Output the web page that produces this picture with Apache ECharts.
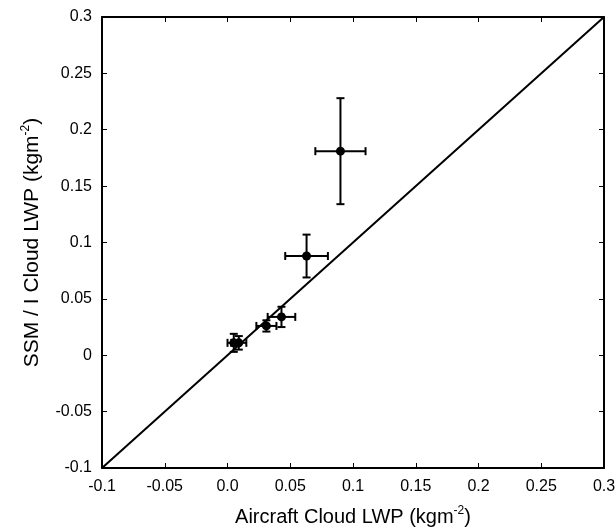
<!DOCTYPE html>
<html><head><meta charset="utf-8">
<script src="https://cdn.jsdelivr.net/npm/echarts@6/dist/echarts.min.js"></script>
<style>html,body{margin:0;padding:0;background:#fff}#c{width:616px;height:529px}</style>
</head><body><div id="c"></div>
<script>
const xVals = [0.005, 0.009, 0.031, 0.043, 0.063, 0.090];
const yVals = [0.011, 0.011, 0.026, 0.034, 0.088, 0.181];
const xErr  = [0.005, 0.006, 0.008, 0.011, 0.017, 0.020];
const yErr  = [0.008, 0.006, 0.005, 0.009, 0.019, 0.047];
const diagLine = [[-0.1, -0.1], [0.3, 0.3]];
const xTickLabels = {'-0.1':'-0.1','-0.05':'-0.05','0':'0.0','0.05':'0.05','0.1':'0.1','0.15':'0.15','0.2':'0.2','0.25':'0.25','0.3':'0.3'};

const pts = xVals.map((x,i)=>[x, yVals[i], xErr[i], yErr[i]]);
const font = 'Liberation Sans';
const chart = echarts.init(document.getElementById('c'), null, {renderer:'canvas'});
const axisCommon = {
  min:-0.1, max:0.3, interval:0.05,
  axisLine:{onZero:false, lineStyle:{color:'#000', width:2}},
  axisTick:{inside:true, length:5, lineStyle:{color:'#000', width:1}},
  splitLine:{show:false},
  axisLabel:{color:'#000', fontFamily:font, fontSize:16}
};
chart.setOption({
  animation:false,
  grid:{left:102, right:12, top:17, bottom:61, containLabel:false, outerBoundsMode:'none'},
  xAxis:[
    Object.assign({}, axisCommon, {type:'value', position:'bottom',
      name:'Aircraft Cloud LWP (kgm{sup|-2})', nameLocation:'middle', nameGap:37,
      nameTextStyle:{color:'#000', fontFamily:font, fontSize:20, rich:{sup:{fontSize:12, padding:[0,0,12,0], fontFamily:font}}},
      axisLabel:{color:'#000', fontFamily:font, fontSize:16, margin:11, formatter:v=>xTickLabels[String(+v.toFixed(2))] ?? v}}),
    Object.assign({}, axisCommon, {type:'value', position:'top', axisLabel:{show:false}})
  ],
  yAxis:[
    Object.assign({}, axisCommon, {type:'value', position:'left',
      name:'SSM / I Cloud LWP (kgm{sup|-2})', nameLocation:'middle', nameGap:58,
      nameTextStyle:{color:'#000', fontFamily:font, fontSize:21, rich:{sup:{fontSize:12, padding:[0,0,12,0], fontFamily:font}}},
      axisLabel:{color:'#000', fontFamily:font, fontSize:16, margin:10, formatter:v=>String(+v.toFixed(2))}}),
    Object.assign({}, axisCommon, {type:'value', position:'right', axisLabel:{show:false}})
  ],
  series:[
    {type:'line', data:diagLine, symbol:'none', lineStyle:{color:'#000', width:2}, silent:true},
    {type:'custom', data:pts, z:5,
      renderItem:function(params, api){
        const x=api.value(0), y=api.value(1), ex=api.value(2), ey=api.value(3);
        const c=api.coord([x,y]);
        const l=api.coord([x-ex,y]), r=api.coord([x+ex,y]);
        const t=api.coord([x,y+ey]), b=api.coord([x,y-ey]);
        const cap=4, st={stroke:'#000', lineWidth:2};
        return {type:'group', children:[
          {type:'line', shape:{x1:l[0],y1:l[1],x2:r[0],y2:r[1]}, style:st},
          {type:'line', shape:{x1:l[0],y1:l[1]-cap,x2:l[0],y2:l[1]+cap}, style:st},
          {type:'line', shape:{x1:r[0],y1:r[1]-cap,x2:r[0],y2:r[1]+cap}, style:st},
          {type:'line', shape:{x1:t[0],y1:t[1],x2:b[0],y2:b[1]}, style:st},
          {type:'line', shape:{x1:t[0]-cap,y1:t[1],x2:t[0]+cap,y2:t[1]}, style:st},
          {type:'line', shape:{x1:b[0]-cap,y1:b[1],x2:b[0]+cap,y2:b[1]}, style:st},
          {type:'circle', shape:{cx:c[0], cy:c[1], r:4.5}, style:{fill:'#000'}}
        ]};
      }}
  ]
});
</script></body></html>
